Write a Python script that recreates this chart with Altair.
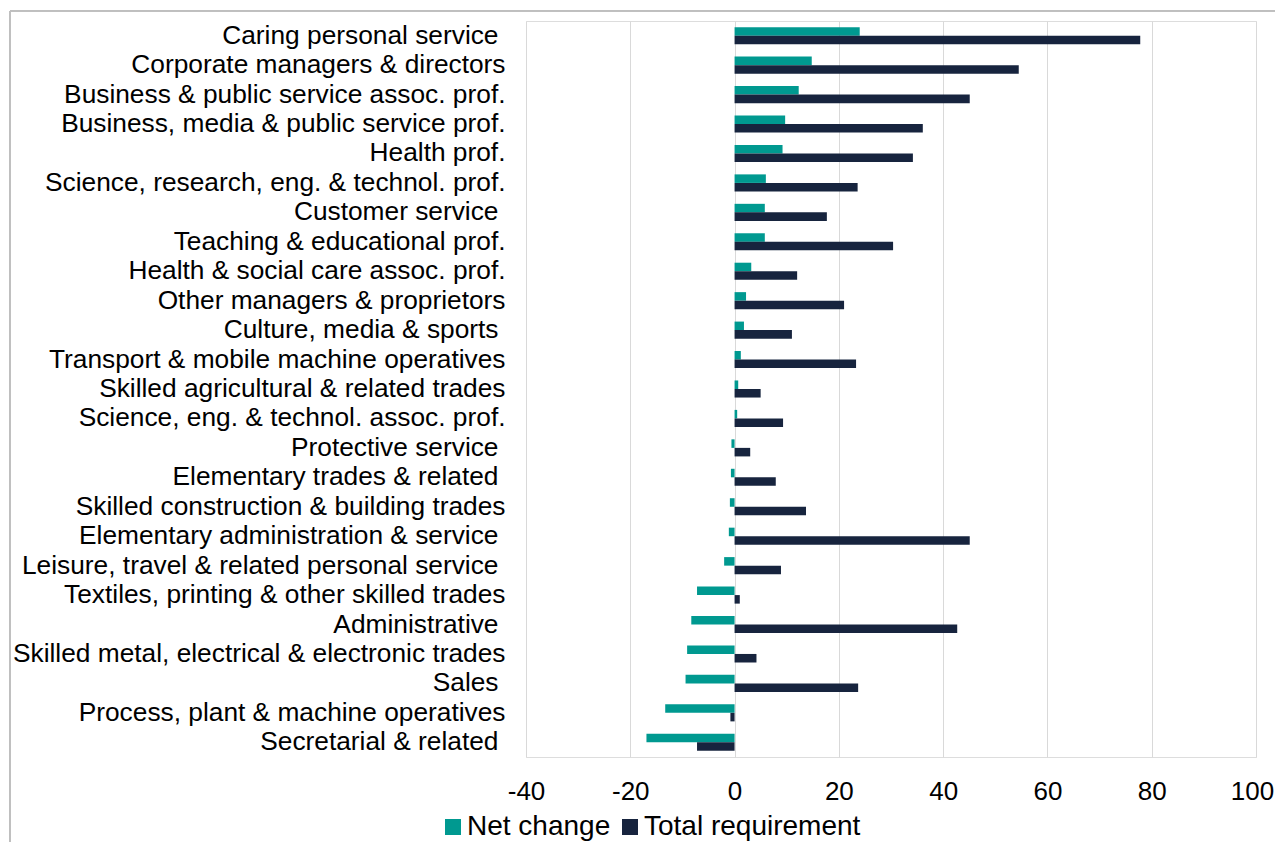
import altair as alt
import pandas as pd
import json

categories = [
    "Caring personal service",
    "Corporate managers & directors",
    "Business & public service assoc. prof.",
    "Business, media & public service prof.",
    "Health prof.",
    "Science, research, eng. & technol. prof.",
    "Customer service",
    "Teaching & educational prof.",
    "Health & social care assoc. prof.",
    "Other managers & proprietors",
    "Culture, media & sports",
    "Transport & mobile machine operatives",
    "Skilled agricultural & related trades",
    "Science, eng. & technol. assoc. prof.",
    "Protective service",
    "Elementary trades & related",
    "Skilled construction & building trades",
    "Elementary administration & service",
    "Leisure, travel & related personal service",
    "Textiles, printing & other skilled trades",
    "Administrative",
    "Skilled metal, electrical & electronic trades",
    "Sales",
    "Process, plant & machine operatives",
    "Secretarial & related",
]

# labels that carry a trailing space in the original
trailing_space = [
    "Caring personal service", "Customer service", "Culture, media & sports",
    "Protective service", "Elementary trades & related",
    "Elementary administration & service", "Leisure, travel & related personal service",
    "Administrative", "Sales", "Secretarial & related",
]

net_change = [24.0, 14.8, 12.3, 9.7, 9.2, 6.0, 5.8, 5.8, 3.2, 2.2, 1.8, 1.2, 0.7, 0.5,
              -0.6, -0.7, -0.9, -1.1, -2.0, -7.2, -8.3, -9.1, -9.4, -13.3, -16.9]
total_requirement = [77.8, 54.5, 45.1, 36.1, 34.2, 23.6, 17.7, 30.4, 12.0, 21.0, 11.0, 23.3, 5.0, 9.3,
                     3.0, 7.9, 13.7, 45.1, 8.9, 1.0, 42.7, 4.2, 23.7, -0.8, -7.2]

series = ["Net change", "Total requirement"]
colors = ["#009990", "#17243E"]
x_ticks = [-40, -20, 0, 20, 40, 60, 80, 100]

rows = []
for c, n, t in zip(categories, net_change, total_requirement):
    rows.append({"category": c, "series": series[0], "value": n})
    rows.append({"category": c, "series": series[1], "value": t})
df = pd.DataFrame(rows)

W, H = 730, 736
FONT = "Liberation Sans"

pad_test = "indexof(" + json.dumps(trailing_space) + ", datum.value) >= 0"

bars = alt.Chart(df).mark_bar().encode(
    y=alt.Y("category:N", sort=categories,
            scale=alt.Scale(paddingInner=0.42, paddingOuter=0.21),
            axis=alt.Axis(title=None, labelFontSize=26.3, labelFont=FONT, labelColor="#000000",
                          labelAlign="right",
                          labelPadding={"condition": {"test": pad_test, "value": 28}, "value": 21},
                          ticks=False, tickSize=0,
                          domain=False, labelLimit=0, grid=False)),
    yOffset=alt.YOffset("series:N", sort=series),
    x=alt.X("value:Q", scale=alt.Scale(domain=[-40, 100], nice=False),
            axis=alt.Axis(title=None, values=x_ticks, labelFontSize=26, labelFont=FONT,
                          labelColor="#000000", labelPadding=21, ticks=False, tickSize=0,
                          labelFlush=False, labelOverlap=False,
                          labelOffset={"condition": {"test": "datum.value >= 100", "value": -4}, "value": 0},
                          labelExpr="datum.value < 0 ? '-' + abs(datum.value) : '' + datum.value",
                          domain=False, grid=True, gridColor="#D9D9D9", gridWidth=1)),
    color=alt.Color("series:N", sort=series,
                    scale=alt.Scale(domain=series, range=colors),
                    legend=alt.Legend(title=None, orient="none", direction="horizontal",
                                      legendX=-87, legendY=792, padding=0,
                                      symbolType="square",
                                      symbolSize=256, symbolStrokeWidth=0,
                                      labelFontSize=28, labelFont=FONT, labelColor="#000000",
                                      labelOffset=0, columnPadding=5, labelLimit=0)),
)

frame_top = alt.Chart(df).mark_rule(color="#BFBFBF", strokeWidth=1).encode(
    x=alt.value(-516), x2=alt.value(W + 40), y=alt.value(-10))
frame_left = alt.Chart(df).mark_rule(color="#BFBFBF", strokeWidth=1).encode(
    x=alt.value(-516), y=alt.value(-10), y2=alt.value(H + 120))

chart = alt.layer(bars, frame_top, frame_left).properties(
    width=W, height=H,
    autosize=alt.AutoSizeParams(type="none"),
    padding={"left": 518, "top": 13, "right": 19, "bottom": 85},
).configure_view(stroke=None).configure(font=FONT)

chart.save("out.html", embed_options={"renderer": "svg", "actions": False})
